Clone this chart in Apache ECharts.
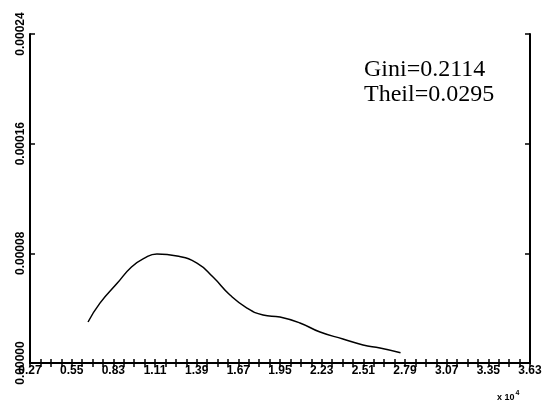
<!DOCTYPE html>
<html>
<head>
<meta charset="utf-8">
<script src="https://cdn.jsdelivr.net/npm/echarts@6/dist/echarts.min.js"></script>
<style>
  html, body { margin: 0; padding: 0; background: #fff; }
  #chart { width: 550px; height: 408px; }
</style>
</head>
<body>
<div id="chart"></div>
<script>
// density curve (x in raw units, shown as x 10^4)
const incomes = [6600, 7400, 8570, 9520, 10390, 11230, 12580, 13920, 15000, 16140,
                 17280, 18360, 19500, 20840, 22190, 23730, 25080, 26220, 27600];
const density = [2.99e-5, 4.37e-5, 5.83e-5, 7.0e-5, 7.65e-5, 7.95e-5, 7.8e-5, 7.29e-5, 6.27e-5, 4.96e-5,
                 4.01e-5, 3.5e-5, 3.35e-5, 2.92e-5, 2.26e-5, 1.75e-5, 1.31e-5, 1.09e-5, 0.75e-5];
const notes = ['Gini=0.2114', 'Theil=0.0295'];

const chart = echarts.init(document.getElementById('chart'));

const X_MIN = 2700, X_MAX = 36300, X_STEP = 2800;
const axisLine = { show: true, lineStyle: { color: '#000', width: 2 } };
const tick = { show: true, inside: true, length: 4, lineStyle: { color: '#000', width: 1.5 } };
const labelFont = { color: '#000', fontFamily: 'Liberation Sans', fontSize: 12, fontWeight: 'bold' };

// ticks every quarter step, labels only on the full steps
const xLabel = (v) => {
    const k = (v - X_MIN) / X_STEP;
    return Math.abs(k - Math.round(k)) < 1e-6 ? (v / 10000).toFixed(2) : '';
};

chart.setOption({
    animation: false,
    grid: { left: 30, right: 20, top: 34, bottom: 45 },
    xAxis: [
        {
            type: 'value', position: 'bottom',
            min: X_MIN, max: X_MAX, interval: X_STEP / 4,
            axisLine, axisTick: tick,
            splitLine: { show: false },
            axisLabel: Object.assign({ margin: 2, formatter: xLabel }, labelFont),
        },
        {
            type: 'value', position: 'top',
            min: X_MIN, max: X_MAX, interval: X_STEP / 4,
            axisLine, axisTick: tick,
            splitLine: { show: false }, axisLabel: { show: false },
        },
    ],
    yAxis: [
        {
            type: 'value', position: 'left',
            min: 0, max: 0.00024, interval: 0.00008,
            axisLine, axisTick: Object.assign({}, tick, { length: 5 }),
            splitLine: { show: false },
            axisLabel: Object.assign({ rotate: 90, margin: 3, formatter: (v) => v.toFixed(5) }, labelFont),
        },
        {
            type: 'value', position: 'right',
            min: 0, max: 0.00024, interval: 0.00008,
            axisLine, axisTick: Object.assign({}, tick, { length: 5 }),
            splitLine: { show: false }, axisLabel: { show: false },
        },
    ],
    series: [
        {
            type: 'line',
            smooth: true,
            showSymbol: false,
            data: incomes.map((x, i) => [x, density[i]]),
            lineStyle: { color: '#000', width: 1.5 },
        },
    ],
    graphic: [
        {
            type: 'text', left: 364, top: 57,
            style: { text: notes.join('\n'), font: '24px "Liberation Serif"', lineHeight: 25, fill: '#000' },
        },
        {
            type: 'text', left: 497, top: 390,
            style: {
                text: '{a|x 10}{b|4}',
                rich: {
                    a: { font: 'bold 9px "Liberation Sans"', fill: '#000', verticalAlign: 'bottom' },
                    b: { font: 'bold 7px "Liberation Sans"', fill: '#000', padding: [0, 0, 5, 1] },
                },
            },
        },
    ],
});
</script>
</body>
</html>
